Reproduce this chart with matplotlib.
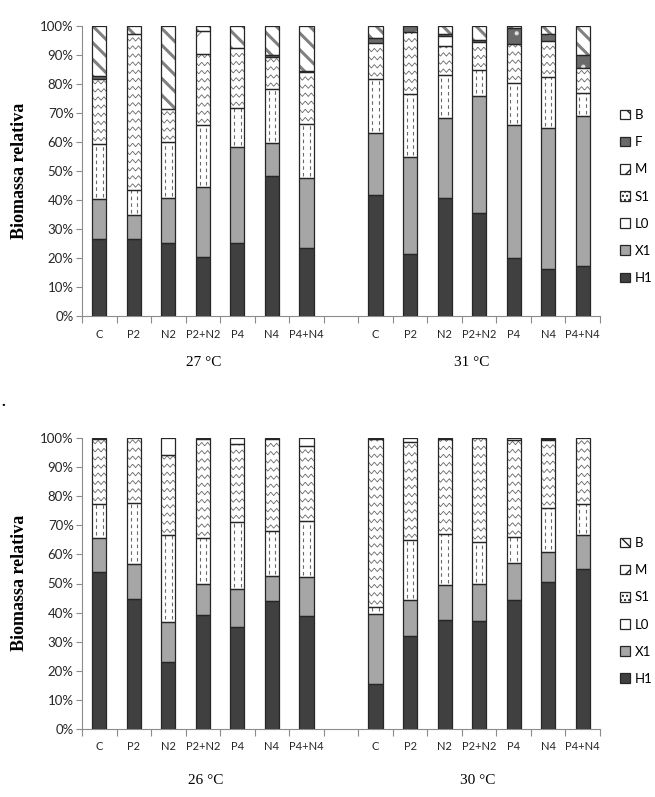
import matplotlib
matplotlib.use('Agg')
import matplotlib.pyplot as plt
import numpy as np
from matplotlib.patches import Patch

categories = ['C', 'P2', 'N2', 'P2+N2', 'P4', 'N4', 'P4+N4']
temps_top = ['27 °C', '31 °C']
temps_bot = ['26 °C', '30 °C']

# ---- top panel (27 °C | 31 °C), values in % ----
h1_27 = [26.4, 26.4, 25.3, 20.3, 25.1, 48.4, 23.3]
x1_27 = [13.8, 8.4, 15.4, 24.2, 33.1, 11.1, 24.2]
l0_27 = [19.2, 8.6, 19.2, 21.2, 13.4, 18.7, 18.8]
s1_27 = [22.3, 53.7, 11.5, 24.5, 20.9, 11.2, 18.0]
m_27 = [0, 0, 0, 8.2, 0, 0, 0]
f_27 = [1.0, 0, 0, 0, 0, 0.7, 0.3]
b_27 = [17.3, 2.9, 28.6, 1.6, 7.5, 9.9, 15.4]

h1_31 = [41.6, 21.4, 40.6, 35.6, 20.1, 16.2, 17.4]
x1_31 = [21.4, 33.3, 27.8, 40.4, 45.8, 48.5, 51.6]
l0_31 = [18.7, 22.0, 14.6, 8.9, 14.6, 17.8, 7.9]
s1_31 = [12.3, 21.3, 10.2, 9.6, 13.2, 12.4, 8.7]
m_31 = [0, 0, 3.5, 0, 0, 0, 0]
f_31 = [2.0, 2.0, 0.5, 0.8, 5.6, 2.3, 4.3]
b_31 = [4.0, 0, 2.8, 4.7, 0.7, 2.8, 10.1]

# ---- bottom panel (26 °C | 30 °C) ----
h1_26 = [54.1, 44.6, 23.1, 39.1, 35.1, 44.0, 38.8]
x1_26 = [11.7, 12.2, 13.8, 10.9, 13.0, 8.6, 13.4]
l0_26 = [11.6, 20.8, 29.6, 15.5, 23.2, 15.4, 19.2]
s1_26 = [22.3, 22.4, 27.8, 34.0, 26.8, 31.7, 25.7]
m_26 = [0, 0, 5.7, 0, 1.9, 0, 2.9]
b_26 = [0.3, 0, 0, 0.5, 0, 0.3, 0]

h1_30 = [15.6, 32.0, 37.5, 37.0, 44.3, 50.6, 54.9]
x1_30 = [24.0, 12.2, 12.0, 12.8, 12.8, 10.3, 11.6]
l0_30 = [2.3, 20.6, 17.5, 14.4, 8.8, 15.0, 10.8]
s1_30 = [57.8, 33.8, 32.7, 35.8, 33.5, 23.3, 22.7]
m_30 = [0, 1.4, 0, 0, 0, 0.5, 0]
b_30 = [0.3, 0, 0.3, 0, 0.6, 0.3, 0]

FONT = 'Lato'
SERIF = 'Liberation Serif'
EDGE = '#262626'
AXCOL = '#8c8c8c'

styles = {
    'H1': dict(face='#404040', hatch=None, hcol='#404040'),
    'X1': dict(face='#a6a6a6', hatch=None, hcol='#a6a6a6'),
    'L0': dict(face='white', hatch=None, hcol='white'),
    'S1': dict(face='white', hatch=None, hcol='white'),
    'M': dict(face='white', hatch='/', hcol='#777777', hlw=0.7),
    'F': dict(face='#6a6a6a', hatch='.', hcol='#e0e0e0', hlw=0.6),
    'B': dict(face='white', hatch='\\\\', hcol='#808080', hlw=2.2),
}

fig = plt.figure(figsize=(6.55, 7.97), dpi=100)
W, H = 655.0, 797.0


def add_axes(left, top, right, bottom):
    return fig.add_axes([left / W, 1 - bottom / H, (right - left) / W, (bottom - top) / H])


def draw_panel(ax, names, left_vals, right_vals):
    x = np.array(list(range(7)) + list(range(8, 15)), dtype=float)
    width = 0.41
    bottoms = np.zeros(14)
    for name, lv, rv in zip(names, left_vals, right_vals):
        vals = np.array(list(lv) + list(rv), dtype=float)
        mask = vals > 0
        st = styles[name]
        lw_h = st.get('hlw', 1.0)
        with plt.rc_context({'hatch.linewidth': lw_h}):
            fillbars = ax.bar(x[mask], vals[mask], width=width, bottom=bottoms[mask],
                              color=st['face'], edgecolor=st['hcol'], linewidth=0,
                              hatch=st['hatch'], zorder=2)
        for p in fillbars:
            try:
                p.set_hatch_linewidth(lw_h)
            except AttributeError:
                pass
        ax.bar(x[mask], vals[mask], width=width, bottom=bottoms[mask],
               fill=False, edgecolor=EDGE, linewidth=0.9, zorder=4)
        if name == 'S1':
            for r in fillbars:
                x0, y0 = r.get_x(), r.get_y()
                w, h = r.get_width(), r.get_height()
                xs = np.linspace(x0, x0 + w, 60)
                spacing = 2.8
                amp = 0.6
                period = w / 2.4
                for yy in np.arange(y0 + 1.6, y0 + h, spacing):
                    ph = ((xs - x0) / period) % 1.0
                    tri = amp * (4 * np.abs(ph - 0.5) - 1)
                    ln, = ax.plot(xs, yy + tri, color='#6a6a6a', lw=0.6, zorder=3)
                    ln.set_clip_path(r)
        if name == 'L0':
            for r in fillbars:
                x0, y0 = r.get_x(), r.get_y()
                w, h = r.get_width(), r.get_height()
                for fx in (0.27, 0.73):
                    ln, = ax.plot([x0 + fx * w, x0 + fx * w], [y0 + 0.8, y0 + h], color='#6a6a6a',
                                  lw=0.8, ls=(0, (3.2, 2.8)), zorder=3)
                    ln.set_clip_path(r)
        bottoms = bottoms + vals

    ax.set_xlim(-0.5, 14.5)
    ax.set_ylim(0, 100)
    for s in ('top', 'right'):
        ax.spines[s].set_visible(False)
    for s in ('left', 'bottom'):
        ax.spines[s].set_color(AXCOL)
        ax.spines[s].set_linewidth(0.8)
    ax.set_yticks(np.arange(0, 101, 10))
    ax.set_yticklabels([f'{v}%' for v in range(0, 101, 10)], fontsize=9.5, family=FONT, color='#262626')
    ax.tick_params(axis='y', length=4, width=0.8, color=AXCOL, pad=2)
    ax.set_xticks(np.arange(-0.5, 15, 1.0))
    ax.set_xticklabels([])
    ax.tick_params(axis='x', which='major', length=5, width=0.8, color=AXCOL)
    ax.set_xticks(x, minor=True)
    ax.set_xticklabels(categories + categories, minor=True, fontsize=8, family=FONT, color='#262626')
    ax.tick_params(axis='x', which='minor', length=0, pad=9)


def make_legend(names, top_y):
    handles = []
    for n in names:
        st = styles[n]
        h = st['hatch']
        if n == 'S1':
            h = '....'
        if n == 'L0':
            h = None
        handles.append(Patch(facecolor=st['face'], edgecolor=EDGE, hatch=h, linewidth=0.9))
    return fig.legend(handles, names, loc='upper left', bbox_to_anchor=(620 / W, 1 - top_y / H),
                      frameon=False, prop={'family': FONT, 'size': 9.5},
                      handlelength=0.75, handleheight=0.75, handletextpad=0.35,
                      labelspacing=1.15, borderpad=0, borderaxespad=0)


ax1 = add_axes(82, 26, 600, 316)
draw_panel(ax1, ['H1', 'X1', 'L0', 'S1', 'M', 'F', 'B'],
           [h1_27, x1_27, l0_27, s1_27, m_27, f_27, b_27],
           [h1_31, x1_31, l0_31, s1_31, m_31, f_31, b_31])
ax2 = add_axes(82, 438, 600, 729)
draw_panel(ax2, ['H1', 'X1', 'L0', 'S1', 'M', 'B'],
           [h1_26, x1_26, l0_26, s1_26, m_26, b_26],
           [h1_30, x1_30, l0_30, s1_30, m_30, b_30])

make_legend(['B', 'F', 'M', 'S1', 'L0', 'X1', 'H1'], 109)
make_legend(['B', 'M', 'S1', 'L0', 'X1', 'H1'], 537)

for xc, t in zip((204, 472), temps_top):
    fig.text(xc / W, 1 - 362 / H, t, ha='center', va='center', family=SERIF, fontsize=11)
for xc, t in zip((206, 478), temps_bot):
    fig.text(xc / W, 1 - 780 / H, t, ha='center', va='center', family=SERIF, fontsize=11)

for yc in (171, 583):
    fig.text(20 / W, 1 - yc / H, 'Biomassa relativa', rotation=90, ha='center', va='center',
             family=SERIF, fontsize=13, fontweight='bold')

fig.text(1 / W, 1 - 403 / H, '.', ha='left', va='center', family=SERIF, fontsize=11, fontweight='bold')

fig.savefig('out.png', dpi=100)
